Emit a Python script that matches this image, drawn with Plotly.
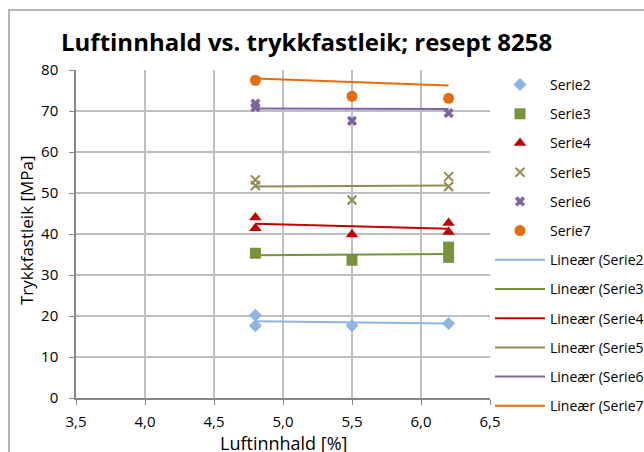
import plotly.graph_objects as go

# ---- data ----
series_names = ["Serie2", "Serie3", "Serie4", "Serie5", "Serie6", "Serie7"]
x2 = [4.8, 4.8, 5.5, 6.2]
y2 = [20.2, 17.6, 17.7, 18.2]
x3 = [4.8, 5.5, 6.2, 6.2]
y3 = [35.3, 33.6, 36.8, 34.3]
x4 = [4.8, 4.8, 5.5, 6.2, 6.2]
y4 = [44.0, 41.4, 39.9, 42.7, 40.5]
x5 = [4.8, 4.8, 5.5, 6.2, 6.2]
y5 = [53.2, 51.8, 48.3, 54.0, 51.6]
x6 = [4.8, 4.8, 5.5, 6.2]
y6 = [71.8, 70.9, 67.6, 69.5]
x7 = [4.8, 5.5, 6.2]
y7 = [77.5, 73.6, 73.1]

# linear trend lines (values at x = 4.8 and x = 6.2)
trend_x = [4.8, 6.2]
trend2 = [18.7, 18.2]
trend3 = [34.8, 35.1]
trend4 = [42.5, 41.3]
trend5 = [51.6, 51.8]
trend6 = [70.6, 70.5]
trend7 = [77.9, 76.2]

x_ticks = [3.5, 4.0, 4.5, 5.0, 5.5, 6.0, 6.5]
y_ticks = [0, 10, 20, 30, 40, 50, 60, 70, 80]

xs = [x2, x3, x4, x5, x6, x7]
ys = [y2, y3, y4, y5, y6, y7]
trends = [trend2, trend3, trend4, trend5, trend6, trend7]

colors = ["#8EB4E3", "#77933C", "#C00000", "#948A54", "#8064A2", "#E46C0A"]
symbols = ["diamond", "square", "triangle-up", "x-thin", "x", "circle"]
sizes = [10, 11, 11, 9, 9, 11]

FONT = "Open Sans"

fig = go.Figure()
for i in range(6):
    mk = dict(color=colors[i], size=sizes[i], symbol=symbols[i])
    if symbols[i] == "x-thin":
        mk["line"] = dict(color=colors[i], width=2)
    else:
        mk["line"] = dict(width=0)
    fig.add_trace(go.Scatter(x=xs[i], y=ys[i], mode="markers", name=series_names[i],
                             marker=mk, legendgroup="m" + str(i), cliponaxis=False))
for i in range(6):
    fig.add_trace(go.Scatter(x=trend_x, y=trends[i], mode="lines",
                             name="Lineær (" + series_names[i] + ")",
                             line=dict(color=colors[i], width=2),
                             legendgroup="t" + str(i)))

L, R, T, B = 76, 154, 70, 54
W, H = 644, 452
pw, ph = W - L - R, H - T - B

def px(xp):
    return (xp - L) / pw

def py(yp):
    return (H - B - yp) / ph

fig.update_layout(
    width=W, height=H,
    margin=dict(l=L, r=R, t=T, b=B, autoexpand=False),
    paper_bgcolor="white", plot_bgcolor="white",
    separators=", ",
    font=dict(family=FONT, size=14, color="#000000"),
    title=dict(text="<b>Luftinnhald vs. trykkfastleik; resept 8258</b>",
               font=dict(family=FONT, size=24, color="#000000"),
               x=61 / W, xanchor="left", y=1 - 43 / H, yanchor="middle"),
    xaxis=dict(range=[3.5, 6.5], tickvals=x_ticks, tickformat=".1f",
               showgrid=True, gridcolor="#BFBFBF", gridwidth=1.5,
               showline=True, linecolor="#868686", linewidth=1.5,
               ticks="outside", ticklen=5, tickcolor="#868686",
               tickfont=dict(size=15), zeroline=False, ticklabelstandoff=4),
    yaxis=dict(range=[0, 80], tickvals=y_ticks,
               showgrid=True, gridcolor="#BFBFBF", gridwidth=1.5,
               showline=True, linecolor="#868686", linewidth=1.5,
               ticks="outside", ticklen=5, tickcolor="#868686",
               tickfont=dict(size=15), zeroline=False, ticklabelstandoff=8),
    legend=dict(x=px(490), xanchor="left", y=py(69), yanchor="top",
                font=dict(family=FONT, size=14), tracegroupgap=8,
                itemwidth=50, bgcolor="rgba(0,0,0,0)", maxheight=1.0),
    showlegend=True,
    annotations=[
        dict(text="Trykkfastleik [MPa]", xref="paper", yref="paper",
             x=px(26), y=py(230), xanchor="center", yanchor="middle",
             textangle=-90, showarrow=False,
             font=dict(family=FONT, size=17)),
        dict(text="Luftinnhald [%]", xref="paper", yref="paper",
             x=px(283), y=py(443), xanchor="center", yanchor="middle",
             showarrow=False, font=dict(family=FONT, size=18)),
    ],
    shapes=[dict(type="rect", xref="paper", yref="paper",
                 x0=px(9), x1=px(660), y0=py(470), y1=py(10),
                 line=dict(color="#9A9A9A", width=1.5), layer="below")],
)

fig.write_html("out.html", post_script="document.body.style.margin='0';",
               config={"displayModeBar": False})
